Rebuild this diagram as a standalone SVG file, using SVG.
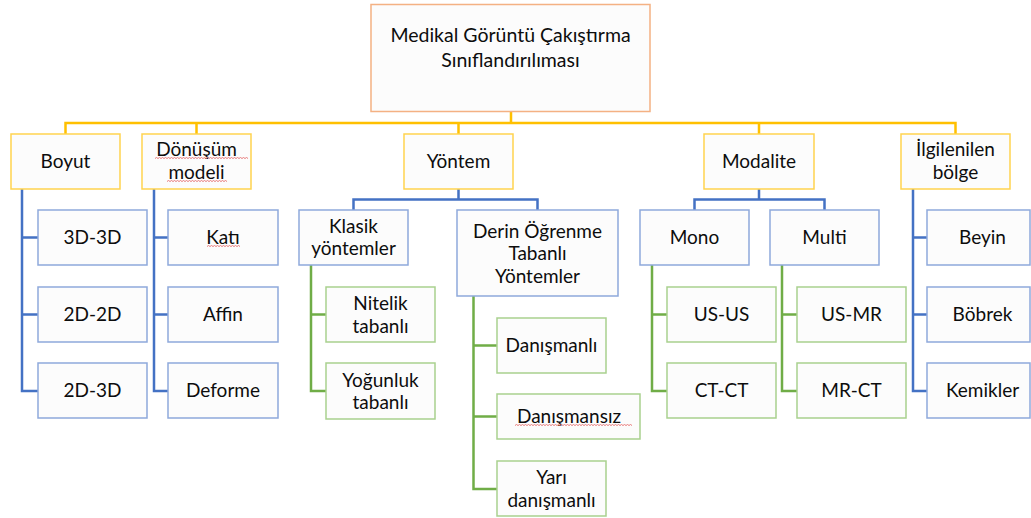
<svg xmlns="http://www.w3.org/2000/svg" width="1031" height="518" viewBox="0 0 1031 518">
  <style>
    text { font-family: Lato, "Open Sans", "Liberation Sans", sans-serif; font-size: 19px; fill: #0d0d0d; text-anchor: middle; }
    .title { font-size: 19.5px; }
    .box { fill: #FCFCFC; stroke-width: 1.5; }
    .root { stroke: #F4B183; }
    .lvl1 { stroke: #FFD34F; }
    .blue { stroke: #8EA9DB; }
    .green { stroke: #A9D18E; }
    .link { fill: none; stroke-width: 2.5; }
    .link-y { stroke: #FFC000; }
    .link-b { stroke: #4472C4; }
    .link-g { stroke: #70AD47; }
    .squiggle { fill: none; stroke: #E87A7A; stroke-width: 1; }
  </style>

  <!-- connectors -->
  <g id="connectors">
    <path class="link link-y" d="M511,112 V123 M65.5,134 V123 H955.5 V134 M196.5,123 V134 M458.5,123 V134 M759,123 V134"/>
    <path class="link link-b" d="M22,189 V391 H38 M22,237.5 H38 M22,314.5 H38"/>
    <path class="link link-b" d="M154,189 V391 H168 M154,237.5 H168 M154,314.5 H168"/>
    <path class="link link-b" d="M458.5,189 V199.5 M353.5,210 V199.5 H537.5 V210"/>
    <path class="link link-b" d="M759,189 V199.5 M694.5,210 V199.5 H824.5 V210"/>
    <path class="link link-b" d="M913,189 V391 H927 M913,237.5 H927 M913,314.5 H927"/>
    <path class="link link-g" d="M311,265 V391 H326 M311,314.5 H326"/>
    <path class="link link-g" d="M473.5,296 V489 H497 M473.5,345.5 H497 M473.5,416.5 H497"/>
    <path class="link link-g" d="M652,265 V391 H667 M652,314.5 H667"/>
    <path class="link link-g" d="M782,265 V391 H797 M782,314.5 H797"/>
  </g>

  <!-- root -->
  <g id="root">
    <rect class="box root" x="371" y="4.5" width="279" height="107"/>
    <text class="title" x="510.5" y="42">Medikal Görüntü Çakıştırma</text>
    <text class="title" x="510.5" y="66.5">Sınıflandırılıması</text>
  </g>

  <!-- first level -->
  <g id="boyut">
    <rect class="box lvl1" x="11" y="134" width="109" height="55"/>
    <text x="65.5" y="168">Boyut</text>
  </g>
  <g id="donusum">
    <rect class="box lvl1" x="142" y="134" width="109" height="55"/>
    <text x="196.5" y="156">Dönüşüm</text>
    <text x="196.5" y="179">modeli</text>
  </g>
  <g id="yontem">
    <rect class="box lvl1" x="404" y="134" width="109" height="55"/>
    <text x="458.5" y="168">Yöntem</text>
  </g>
  <g id="modalite">
    <rect class="box lvl1" x="704" y="134" width="110" height="55"/>
    <text x="759" y="168">Modalite</text>
  </g>
  <g id="ilgilenilen">
    <rect class="box lvl1" x="901" y="134" width="109" height="55"/>
    <text x="955.5" y="155.5">İlgilenilen</text>
    <text x="955.5" y="178.5">bölge</text>
  </g>

  <!-- Boyut children -->
  <g id="d3d3d">
    <rect class="box blue" x="38" y="210" width="109" height="55"/>
    <text x="92.5" y="244">3D-3D</text>
  </g>
  <g id="d2d2d">
    <rect class="box blue" x="38" y="287" width="109" height="55"/>
    <text x="92.5" y="321">2D-2D</text>
  </g>
  <g id="d2d3d">
    <rect class="box blue" x="38" y="363" width="109" height="55"/>
    <text x="92.5" y="397">2D-3D</text>
  </g>

  <!-- Dönüşüm modeli children -->
  <g id="kati">
    <rect class="box blue" x="168" y="210" width="110" height="55"/>
    <text x="223" y="244">Katı</text>
  </g>
  <g id="affin">
    <rect class="box blue" x="168" y="287" width="110" height="55"/>
    <text x="223" y="321">Affin</text>
  </g>
  <g id="deforme">
    <rect class="box blue" x="168" y="363" width="110" height="55"/>
    <text x="223" y="397">Deforme</text>
  </g>

  <!-- Yöntem children -->
  <g id="klasik">
    <rect class="box blue" x="299" y="210" width="109" height="55"/>
    <text x="353.5" y="232.5">Klasik</text>
    <text x="353.5" y="255">yöntemler</text>
  </g>
  <g id="derin">
    <rect class="box blue" x="457" y="210" width="161" height="86"/>
    <text x="537.5" y="237.5">Derin Öğrenme</text>
    <text x="537.5" y="260">Tabanlı</text>
    <text x="537.5" y="282.5">Yöntemler</text>
  </g>
  <g id="nitelik">
    <rect class="box green" x="326" y="287" width="109" height="55"/>
    <text x="380.5" y="310">Nitelik</text>
    <text x="380.5" y="332.5">tabanlı</text>
  </g>
  <g id="yogunluk">
    <rect class="box green" x="326" y="363" width="109" height="56"/>
    <text x="380.5" y="386.5">Yoğunluk</text>
    <text x="380.5" y="409">tabanlı</text>
  </g>
  <g id="danismanli">
    <rect class="box green" x="497" y="318" width="109" height="55"/>
    <text x="551.5" y="352">Danışmanlı</text>
  </g>
  <g id="danismansiz">
    <rect class="box green" x="497" y="394" width="143" height="45"/>
    <text x="569" y="423">Danışmansız</text>
  </g>
  <g id="yari">
    <rect class="box green" x="497" y="461" width="109" height="55"/>
    <text x="551.5" y="484">Yarı</text>
    <text x="551.5" y="506.5">danışmanlı</text>
  </g>

  <!-- Modalite children -->
  <g id="mono">
    <rect class="box blue" x="640" y="210" width="109" height="55"/>
    <text x="694.5" y="244">Mono</text>
  </g>
  <g id="multi">
    <rect class="box blue" x="770" y="210" width="109" height="55"/>
    <text x="824.5" y="244">Multi</text>
  </g>
  <g id="usus">
    <rect class="box green" x="667" y="287" width="109" height="55"/>
    <text x="721.5" y="321">US-US</text>
  </g>
  <g id="ctct">
    <rect class="box green" x="667" y="363" width="109" height="55"/>
    <text x="721.5" y="397">CT-CT</text>
  </g>
  <g id="usmr">
    <rect class="box green" x="797" y="287" width="109" height="55"/>
    <text x="851.5" y="321">US-MR</text>
  </g>
  <g id="mrct">
    <rect class="box green" x="797" y="363" width="109" height="55"/>
    <text x="851.5" y="397">MR-CT</text>
  </g>

  <!-- İlgilenilen bölge children -->
  <g id="beyin">
    <rect class="box blue" x="927" y="210" width="103" height="55"/>
    <text x="982.5" y="244">Beyin</text>
  </g>
  <g id="bobrek">
    <rect class="box blue" x="927" y="287" width="103" height="55"/>
    <text x="982.5" y="321">Böbrek</text>
  </g>
  <g id="kemikler">
    <rect class="box blue" x="927" y="363" width="103" height="55"/>
    <text x="982.5" y="397">Kemikler</text>
  </g>

  <!-- spelling underlines -->
  <g id="squiggles">
    <path class="squiggle" d="M155,158.5 l1.5,-1 1.5,1 1.5,-1 1.5,1 1.5,-1 1.5,1 1.5,-1 1.5,1 1.5,-1 1.5,1 1.5,-1 1.5,1 1.5,-1 1.5,1 1.5,-1 1.5,1 1.5,-1 1.5,1 1.5,-1 1.5,1 1.5,-1 1.5,1 1.5,-1 1.5,1 1.5,-1 1.5,1 1.5,-1 1.5,1 1.5,-1 1.5,1 1.5,-1 1.5,1 1.5,-1 1.5,1 1.5,-1 1.5,1 1.5,-1 1.5,1 1.5,-1 1.5,1 1.5,-1 1.5,1 1.5,-1 1.5,1 1.5,-1 1.5,1 1.5,-1 1.5,1 1.5,-1 1.5,1 1.5,-1 1.5,1 1.5,-1 1.5,1 1.5,-1 1.5,1 1.5,-1 1.5,1 1.5,-1 1.5,1 1.5,-1 1.5,1"/>
    <path class="squiggle" d="M167,181.5 l1.5,-1 1.5,1 1.5,-1 1.5,1 1.5,-1 1.5,1 1.5,-1 1.5,1 1.5,-1 1.5,1 1.5,-1 1.5,1 1.5,-1 1.5,1 1.5,-1 1.5,1 1.5,-1 1.5,1 1.5,-1 1.5,1 1.5,-1 1.5,1 1.5,-1 1.5,1 1.5,-1 1.5,1 1.5,-1 1.5,1 1.5,-1 1.5,1 1.5,-1 1.5,1 1.5,-1 1.5,1 1.5,-1 1.5,1 1.5,-1 1.5,1 1.5,-1 1.5,1"/>
    <path class="squiggle" d="M207,246.5 l1.5,-1 1.5,1 1.5,-1 1.5,1 1.5,-1 1.5,1 1.5,-1 1.5,1 1.5,-1 1.5,1 1.5,-1 1.5,1 1.5,-1 1.5,1 1.5,-1 1.5,1 1.5,-1 1.5,1 1.5,-1 1.5,1 1.5,-1 1.5,1"/>
    <path class="squiggle" d="M515,425.5 l1.5,-1 1.5,1 1.5,-1 1.5,1 1.5,-1 1.5,1 1.5,-1 1.5,1 1.5,-1 1.5,1 1.5,-1 1.5,1 1.5,-1 1.5,1 1.5,-1 1.5,1 1.5,-1 1.5,1 1.5,-1 1.5,1 1.5,-1 1.5,1 1.5,-1 1.5,1 1.5,-1 1.5,1 1.5,-1 1.5,1 1.5,-1 1.5,1 1.5,-1 1.5,1 1.5,-1 1.5,1 1.5,-1 1.5,1 1.5,-1 1.5,1 1.5,-1 1.5,1 1.5,-1 1.5,1 1.5,-1 1.5,1 1.5,-1 1.5,1 1.5,-1 1.5,1 1.5,-1 1.5,1 1.5,-1 1.5,1 1.5,-1 1.5,1 1.5,-1 1.5,1 1.5,-1 1.5,1 1.5,-1 1.5,1 1.5,-1 1.5,1 1.5,-1 1.5,1 1.5,-1 1.5,1 1.5,-1 1.5,1 1.5,-1 1.5,1 1.5,-1 1.5,1 1.5,-1 1.5,1 1.5,-1 1.5,1 1.5,-1 1.5,1"/>
  </g>
</svg>
